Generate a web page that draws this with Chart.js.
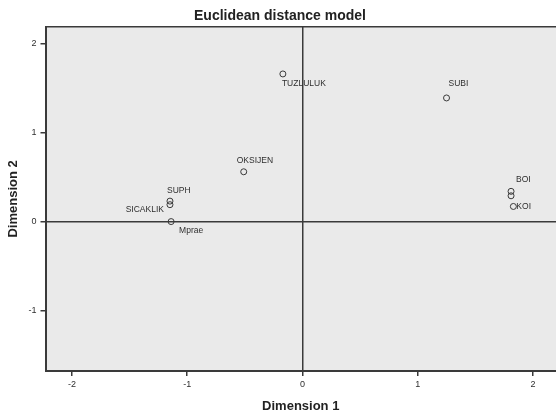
<!DOCTYPE html>
<html>
<head>
<meta charset="utf-8">
<script src="https://cdn.jsdelivr.net/npm/chart.js@4/dist/chart.umd.min.js"></script>
<style>
  html, body { margin: 0; padding: 0; background: #fff; overflow: hidden; }
  #wrap { width: 560px; height: 415px; }
</style>
</head>
<body>
<div id="wrap"><canvas id="mds" width="560" height="415"></canvas></div>
<script>
// Euclidean distance model — MDS stimulus configuration

const stimuli = ['TUZLULUK', 'SUBI', 'OKSIJEN', 'SUPH', 'SICAKLIK', 'Mprae', 'BOI', '', 'KOI']
const dim1    = [-0.17, 1.25, -0.51, -1.15, -1.15, -1.14, 1.81, 1.81, 1.83]
const dim2    = [ 1.66, 1.39,  0.56,  0.23,  0.19,  0.00, 0.34, 0.29, 0.17]
const xTicks  = [-2, -1, 0, 1, 2]
const yTicks  = [-1, 0, 1, 2]

// label placement relative to its point: [dx, dy, textAlign]
const labelPlace = [
  [-1, 10, 'left'], [2, -14, 'left'], [-7, -11, 'left'], [-3, -10, 'left'],
  [-6, 5, 'right'], [8, 9, 'left'], [5, -12, 'left'], [0, 0, 'left'], [3, 0, 'left'],
]

const INK = '#3a3a3a'
const FONT = '"Liberation Sans", Arial, sans-serif'

const plotBg = {
  id: 'plotBg',
  beforeDraw(chart) {
    const { ctx, chartArea: a } = chart
    ctx.save()
    ctx.fillStyle = '#eaeaea'
    ctx.fillRect(a.left, a.top, a.right - a.left, a.bottom - a.top)
    ctx.strokeStyle = INK
    ctx.lineWidth = 1.5
    ctx.beginPath()
    ctx.moveTo(a.left, a.top)
    ctx.lineTo(a.right, a.top)
    ctx.stroke()
    ctx.restore()
  }
}

const pointLabels = {
  id: 'pointLabels',
  afterDatasetsDraw(chart) {
    const { ctx, scales: { x, y } } = chart
    ctx.save()
    ctx.font = '8.5px ' + FONT
    ctx.fillStyle = '#2e2e2e'
    ctx.textBaseline = 'middle'
    stimuli.forEach((name, i) => {
      if (!name) return
      const [dx, dy, align] = labelPlace[i]
      ctx.textAlign = align
      ctx.fillText(name, x.getPixelForValue(dim1[i]) + dx, y.getPixelForValue(dim2[i]) + dy)
    })
    ctx.restore()
  }
}

const zeroLine = c => c.tick && c.tick.value === 0 ? INK : 'rgba(0,0,0,0)'

new Chart(document.getElementById('mds'), {
  type: 'scatter',
  data: {
    datasets: [{
      data: dim1.map((v, i) => ({ x: v, y: dim2[i] })),
      pointStyle: 'circle',
      radius: 3,
      hoverRadius: 3,
      backgroundColor: 'rgba(0,0,0,0)',
      borderColor: INK,
      borderWidth: 1,
    }]
  },
  plugins: [plotBg, pointLabels],
  options: {
    responsive: false,
    animation: false,
    devicePixelRatio: 1,
    layout: { padding: 0 },
    plugins: {
      legend: { display: false },
      tooltip: { enabled: false },
      title: {
        display: true,
        text: 'Euclidean distance model',
        color: '#222',
        font: { family: FONT, size: 14, weight: 'bold' },
        padding: { top: 8, bottom: 2 },
      },
    },
    scales: {
      x: {
        type: 'linear',
        min: -2.23, max: 2.2,
        afterBuildTicks: s => { s.ticks = xTicks.map(v => ({ value: v })) },
        afterFit: s => { s.height = 44 },
        border: { display: true, color: INK, width: 2 },
        grid: { color: zeroLine, lineWidth: 1.5, tickColor: INK, tickLength: 5, drawOnChartArea: true },
        ticks: { color: '#2e2e2e', padding: 3, maxRotation: 0, font: { family: FONT, size: 9 } },
        title: {
          display: true, text: 'Dimension 1', color: '#222', padding: { top: 1, bottom: 1 },
          font: { family: FONT, size: 13, weight: 'bold' },
        },
      },
      y: {
        type: 'linear',
        min: -1.68, max: 2.19,
        afterBuildTicks: s => { s.ticks = yTicks.map(v => ({ value: v })) },
        afterFit: s => { s.width = 45.5 },
        border: { display: true, color: INK, width: 2 },
        grid: { color: zeroLine, lineWidth: 1.5, tickColor: INK, tickLength: 5, drawOnChartArea: true },
        ticks: { color: '#2e2e2e', padding: 4, font: { family: FONT, size: 9 } },
        title: {
          display: true, text: 'Dimension 2', color: '#222', padding: { top: 6, bottom: 0 },
          font: { family: FONT, size: 13, weight: 'bold' },
        },
      },
    },
  },
})
</script>
</body>
</html>
